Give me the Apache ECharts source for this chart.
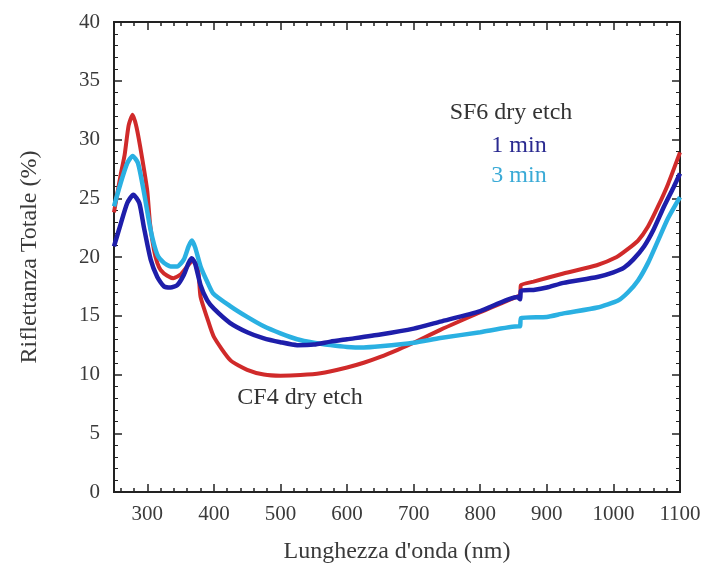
<!DOCTYPE html>
<html>
<head>
<meta charset="utf-8">
<script src="https://cdn.jsdelivr.net/npm/echarts@6/dist/echarts.min.js"></script>
<style>html,body{margin:0;padding:0;background:#fff}#c{width:705px;height:579px}</style>
</head>
<body>
<div id="c"></div>
<script>
// CF4 dry etch (red)
const redX = [250,260,266,272,278,284,292,300,304,310,315,320,330,339,350,360,368,374,377,380,390,400,425,450,475,500,530,560,600,625,650,676,700,740,800,850,860,861,880,925,975,1005,1020,1037,1052,1067,1082,1100];
const redY = [23.8,27.0,28.7,31.2,32.1,31.0,28.5,25.6,22.9,20.6,19.5,18.9,18.4,18.2,18.5,19.2,19.7,19.3,18.6,16.6,14.8,13.2,11.2,10.4,10.0,9.9,9.95,10.1,10.6,11.0,11.5,12.1,12.7,13.8,15.3,16.5,16.8,17.6,17.9,18.6,19.3,20.0,20.6,21.4,22.6,24.3,26.2,28.9];
// SF6 dry etch 1 min (dark blue)
const blueX = [250,260,270,279,288,295,305,315,325,335,345,355,362,367,372,380,390,400,424,450,474,500,525,550,575,600,650,700,740,800,856,860,861,880,900,925,976,1000,1016,1030,1046,1060,1076,1090,1100];
const blueY = [20.9,22.8,24.6,25.3,24.6,22.5,19.8,18.3,17.5,17.4,17.6,18.5,19.5,19.9,19.4,17.6,16.3,15.6,14.4,13.6,13.1,12.75,12.5,12.55,12.8,13.0,13.4,13.9,14.5,15.4,16.6,16.4,17.1,17.2,17.4,17.8,18.3,18.7,19.1,19.8,20.9,22.3,24.3,25.9,27.1];
// SF6 dry etch 3 min (cyan)
const cyanX = [250,260,270,278,286,295,305,315,325,335,345,355,362,367,372,380,390,399,425,450,475,500,525,550,575,600,625,650,700,740,800,858,860,861,900,925,976,1007,1022,1037,1052,1067,1082,1100];
const cyanY = [24.3,26.3,28.0,28.6,28.0,25.5,22.3,20.2,19.5,19.2,19.2,19.8,20.9,21.4,20.8,19.2,17.9,16.9,15.8,14.9,14.1,13.5,13.0,12.7,12.5,12.35,12.3,12.4,12.7,13.1,13.6,14.1,14.1,14.8,14.9,15.2,15.7,16.3,17.0,18.0,19.5,21.4,23.3,25.1];

const xMajorTicks = [300,400,500,600,700,800,900,1000,1100];
const xMinorTicks = [260,280,320,340,360,380,420,440,460,480,520,540,560,580,620,640,660,680,720,740,760,780,820,840,860,880,920,940,960,980,1020,1040,1060,1080];

const pairs = (xs, ys) => xs.map((x, i) => [x, ys[i]]);

const FONT = '"Liberation Serif", "DejaVu Serif", serif';
const AX = '#222';
const TXT = '#3a3a3a';

const chart = echarts.init(document.getElementById('c'), null, {renderer: 'canvas'});

function xAx(pos, ticks, len, labels, name) {
  return {
    type: 'value', position: pos, min: 250, max: 1100,
    axisLine: {show: true, onZero: false, lineStyle: {color: AX, width: 2}},
    axisTick: {show: true, inside: true, length: len, customValues: ticks, lineStyle: {color: AX, width: 1.5}},
    axisLabel: labels ? {show: true, customValues: xMajorTicks, formatter: v => String(v), color: TXT, fontFamily: FONT, fontSize: 21, margin: 12} : {show: false},
    splitLine: {show: false},
    name: name || '', nameLocation: 'middle', nameGap: 48,
    nameTextStyle: {color: TXT, fontFamily: FONT, fontSize: 24}
  };
}
function yAx(pos, labels, name) {
  return {
    type: 'value', position: pos, min: 0, max: 40, interval: 5,
    axisLine: {show: true, onZero: false, lineStyle: {color: AX, width: 2}},
    axisTick: {show: true, inside: true, length: 8, lineStyle: {color: AX, width: 1.5}},
    minorTick: {show: true, splitNumber: 5, length: 4, lineStyle: {color: AX, width: 1}},
    axisLabel: labels ? {show: true, color: TXT, fontFamily: FONT, fontSize: 21, margin: 14} : {show: false},
    splitLine: {show: false}, minorSplitLine: {show: false},
    name: name || '', nameLocation: 'middle', nameGap: 72,
    nameTextStyle: {color: TXT, fontFamily: FONT, fontSize: 24}
  };
}

const option = {
  backgroundColor: '#fff',
  animation: false,
  grid: {left: 114, right: 25, top: 22, bottom: 87, containLabel: false},
  xAxis: [
    xAx('bottom', xMajorTicks, 8, true, "Lunghezza d'onda (nm)"),
    xAx('bottom', xMinorTicks, 4, false),
    xAx('top', xMajorTicks, 8, false),
    xAx('top', xMinorTicks, 4, false)
  ],
  yAxis: [
    yAx('left', true, 'Riflettanza Totale (%)'),
    yAx('right', false)
  ],
  series: [
    {name: 'CF4', type: 'line', data: pairs(redX, redY), showSymbol: false, smooth: 0.2,
     lineStyle: {color: '#d02a2a', width: 4}, z: 2},
    {name: '3 min', type: 'line', data: pairs(cyanX, cyanY), showSymbol: false, smooth: 0.2,
     lineStyle: {color: '#2ab0e2', width: 4.5}, z: 3},
    {name: '1 min', type: 'line', data: pairs(blueX, blueY), showSymbol: false, smooth: 0.2,
     lineStyle: {color: '#1e1eaa', width: 4.5}, z: 4}
  ],
  graphic: [
    {type: 'text', style: {x: 511, y: 113, align: 'center', verticalAlign: 'middle', text: 'SF6 dry etch', fill: '#333', font: '24px ' + FONT}},
    {type: 'text', style: {x: 519, y: 146, align: 'center', verticalAlign: 'middle', text: '1 min', fill: '#2a2a90', font: '24px ' + FONT}},
    {type: 'text', style: {x: 519, y: 176, align: 'center', verticalAlign: 'middle', text: '3 min', fill: '#3aaad6', font: '24px ' + FONT}},
    {type: 'text', style: {x: 300, y: 398, align: 'center', verticalAlign: 'middle', text: 'CF4 dry etch', fill: '#333', font: '24px ' + FONT}}
  ]
};
chart.setOption(option);
</script>
</body>
</html>
